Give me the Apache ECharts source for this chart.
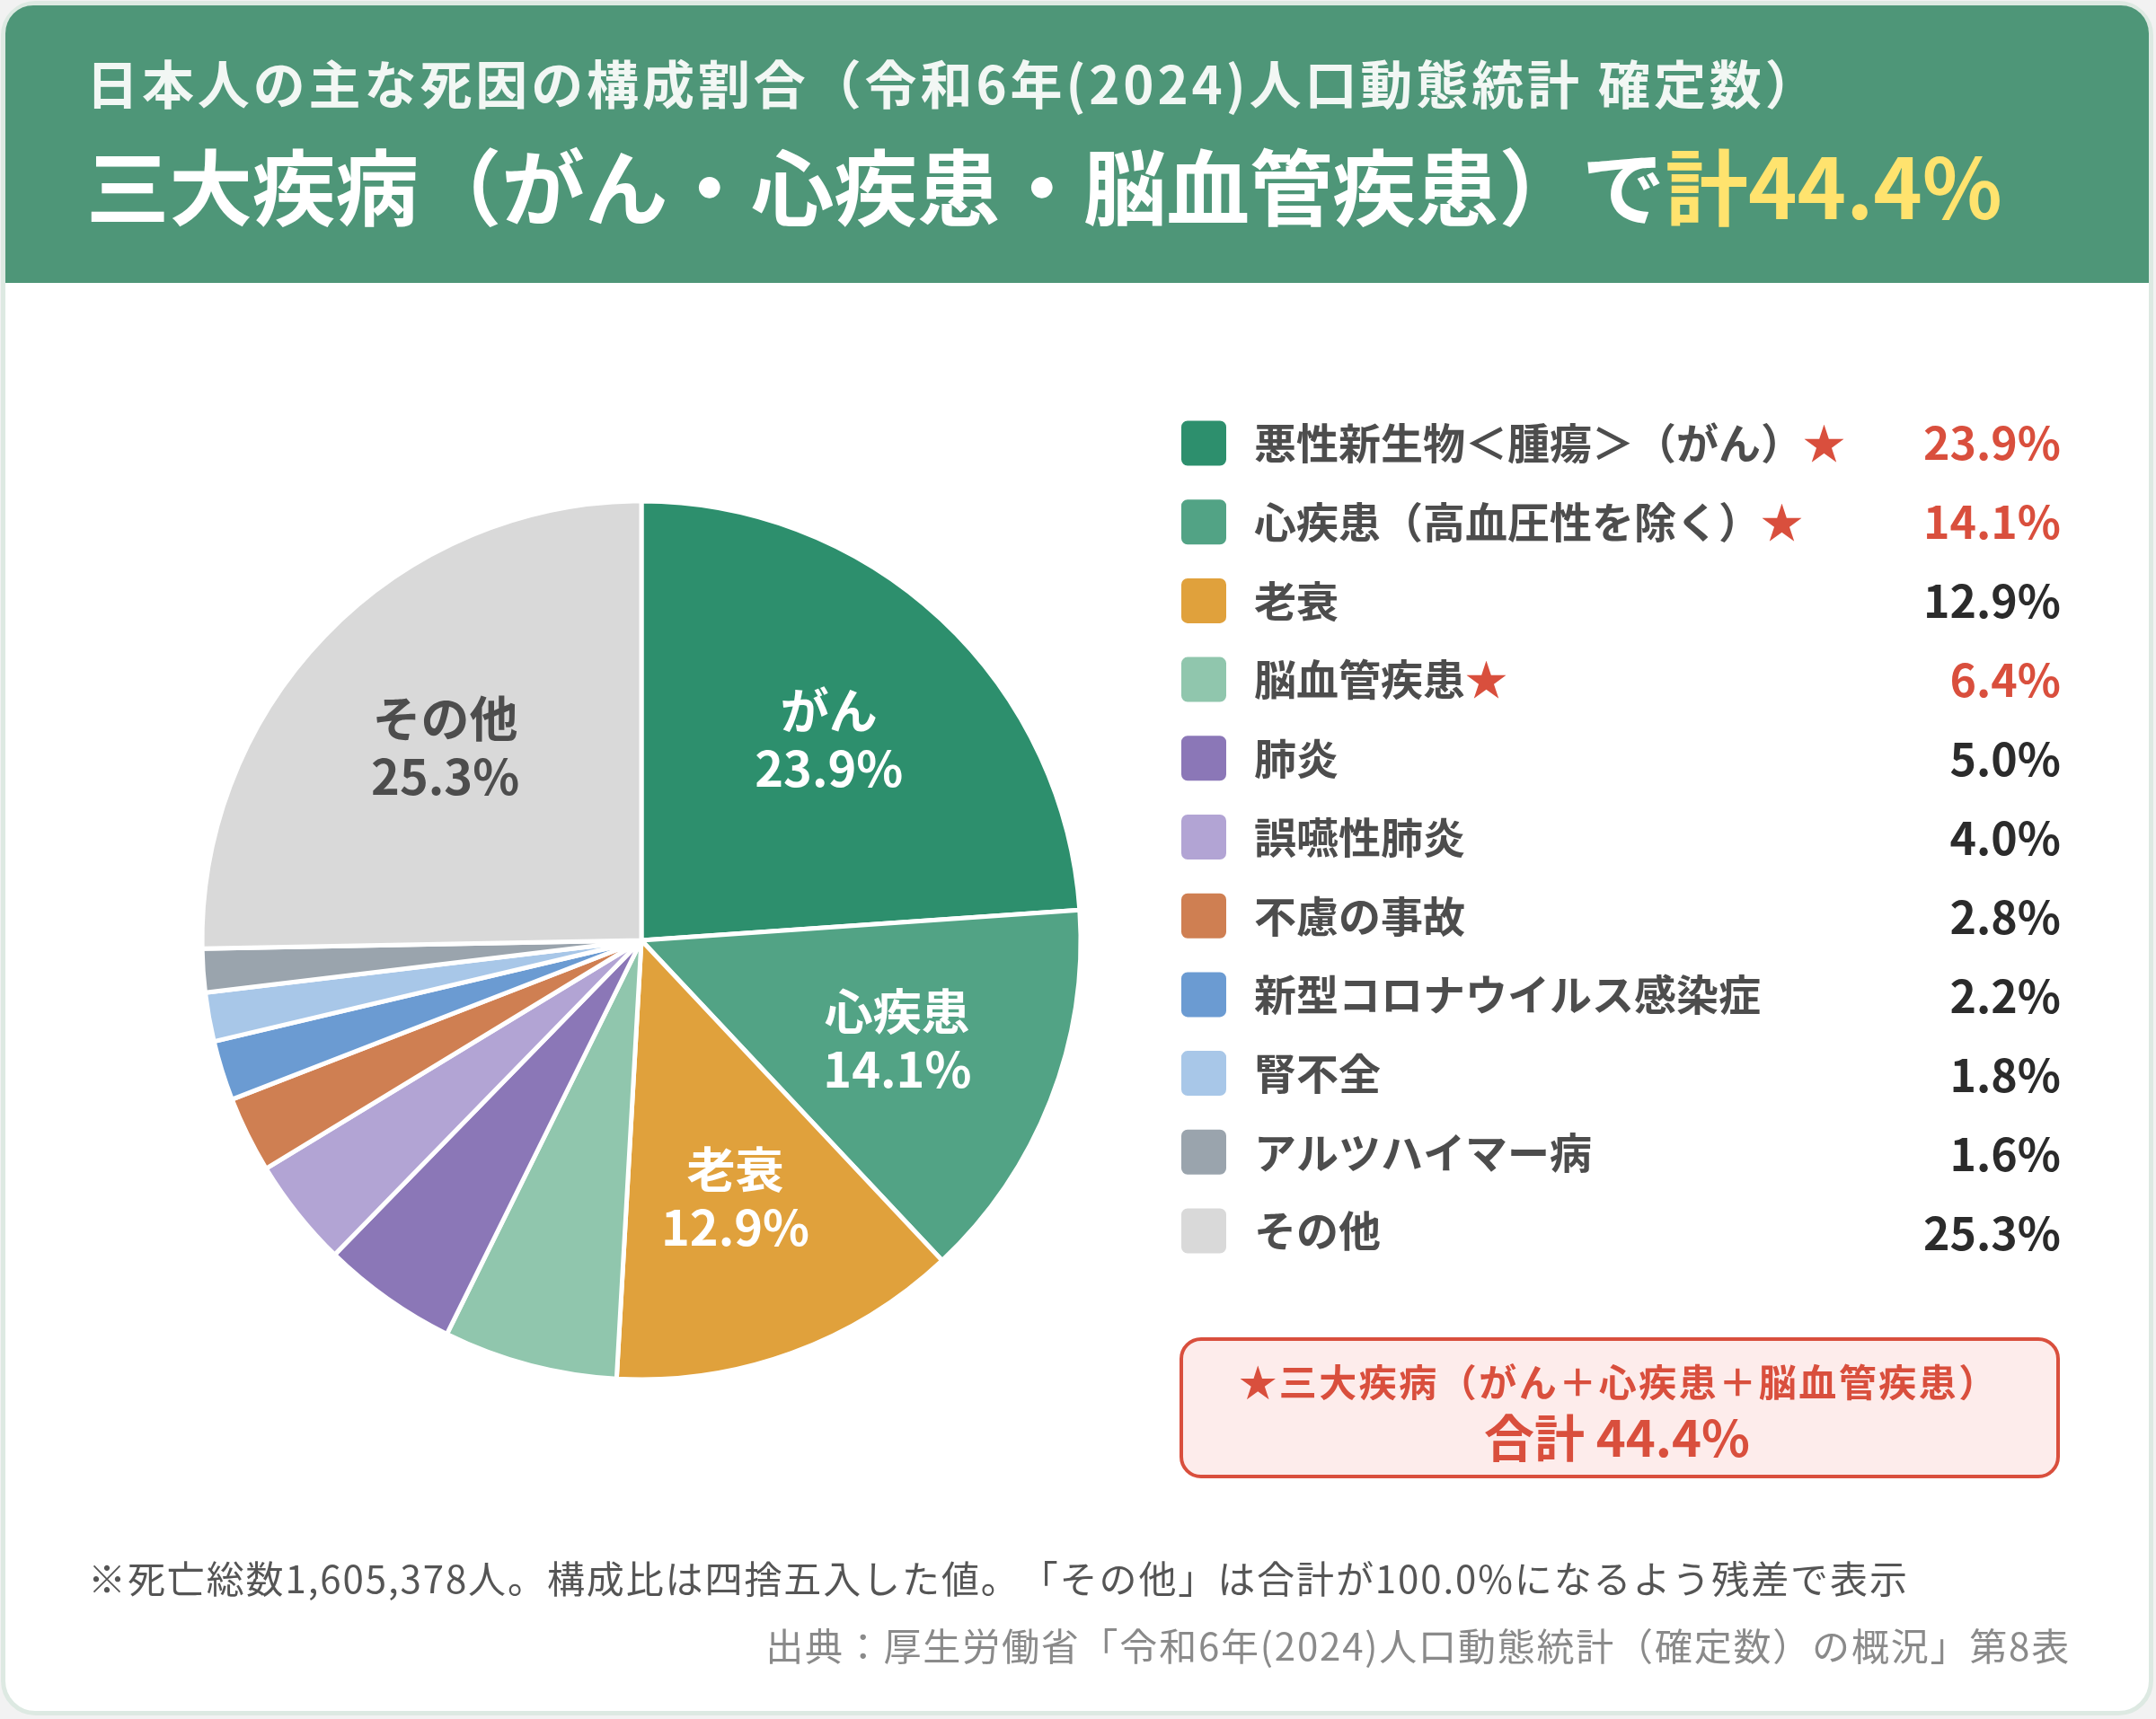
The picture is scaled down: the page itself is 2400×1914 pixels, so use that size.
<!DOCTYPE html>
<html lang="ja">
<head>
<meta charset="utf-8">
<title>日本人の主な死因の構成割合</title>
<script src="https://cdn.jsdelivr.net/npm/echarts@6/dist/echarts.min.js"></script>
<style>
  html, body { margin: 0; padding: 0; background: #f2f2f2; }
  #chart { width: 2400px; height: 1914px; }
</style>
</head>
<body>
<div id="chart"></div>
<script>
// 死因（凡例の並び順＝円グラフの時計回り順）
const causes = ['悪性新生物＜腫瘍＞（がん）', '心疾患（高血圧性を除く）', '老衰', '脳血管疾患', '肺炎', '誤嚥性肺炎',
  '不慮の事故', '新型コロナウイルス感染症', '腎不全', 'アルツハイマー病', 'その他']
const shares = [23.9, 14.1, 12.9, 6.4, 5.0, 4.0, 2.8, 2.2, 1.8, 1.6, 25.3]
// 円の中に書く短い名前（空文字は表示しない）
const shortNames = ['がん', '心疾患', '老衰', '', '', '', '', '', '', '', 'その他']
// 三大疾病
const isBigThree = [true, true, false, true, false, false, false, false, false, false, false]
const colors = ['#2d8f6d', '#52a385', '#e0a13c', '#90c6ad', '#8b77b7', '#b2a4d4',
  '#cf7f52', '#6b9bd2', '#a8c7e8', '#9aa4ad', '#d9d9d9']

const titleSub = '日本人の主な死因の構成割合（令和6年(2024)人口動態統計 確定数）'
const note = '※死亡総数1,605,378人。構成比は四捨五入した値。「その他」は合計が100.0%になるよう残差で表示'
const source = '出典：厚生労働省「令和6年(2024)人口動態統計（確定数）の概況」第8表'

const FONT = "'Noto Sans CJK JP', 'Noto Sans', sans-serif"
const RED = '#d94f3d'

let bigThreeTotal = 0
shares.forEach((v, i) => { if (isBigThree[i]) bigThreeTotal += v })
const totalText = bigThreeTotal.toFixed(1) + '%'

const myChart = echarts.init(document.getElementById('chart'))

function txt(x, y, text, style) {
  return {
    type: 'text', x: x, y: y, z: 5,
    style: Object.assign({
      text: text, fontFamily: FONT,
      textAlign: 'left', align: 'left',
      textVerticalAlign: 'middle', verticalAlign: 'middle'
    }, style)
  }
}

// 文字間隔をあけたテキスト（1文字ずつ rich の padding で広げる）
function spaced(x, y, text, size, weight, color, ls, align) {
  const s = Array.from(text).map(c => '{c|' + c + '}').join('')
  return txt(x, y, s, {
    fontSize: size, fontWeight: weight, fill: color,
    textAlign: align, align: align,
    rich: { c: { fontSize: size, fontWeight: weight, fontFamily: FONT, fill: color, color: color, padding: [0, ls, 0, 0] } }
  })
}

const graphics = [
  // カード
  { type: 'rect', z: 0, shape: { x: 3.5, y: 3.5, width: 2391, height: 1904, r: 36 },
    style: { fill: '#fff', stroke: '#dde9e2', lineWidth: 5 } },
  // 見出し帯
  { type: 'rect', z: 1, shape: { x: 6, y: 6, width: 2386, height: 309, r: [31, 31, 0, 0] },
    style: { fill: '#4e9678' } },
  spaced(96, 94, titleSub, 58, 'bold', '#f2f7f4', 3.9, 'left'),
  txt(96, 209, '{w|三大疾病（がん・心疾患・脳血管疾患）で}{y|計' + totalText + '}', {
    fontSize: 92.5, fontWeight: 'bold', fill: '#fff',
    rich: {
      w: { fontSize: 92.5, fontWeight: 'bold', fontFamily: FONT, fill: '#fff', color: '#fff' },
      y: { fontSize: 92.5, fontWeight: 'bold', fontFamily: FONT, fill: '#ffe36e', color: '#ffe36e' }
    }
  }),
  // 三大疾病の合計ボックス
  { type: 'rect', z: 1, shape: { x: 1315, y: 1491, width: 976, height: 153, r: 22 },
    style: { fill: '#fdeceb', stroke: RED, lineWidth: 4 } },
  spaced(1802, 1539, '★三大疾病（がん＋心疾患＋脳血管疾患）', 42, 'bold', RED, 2.5, 'center'),
  txt(1800, 1601, '合計 ' + totalText, { fontSize: 56, fontWeight: 'bold', fill: RED, textAlign: 'center', align: 'center' }),
  // 注記
  spaced(98, 1758, note, 42, 'normal', '#555', 1.9, 'left'),
  spaced(2305, 1833, source, 42, 'normal', '#8a8a8a', 1.8, 'right')
]

// 凡例の右側の数値
shares.forEach((v, i) => {
  graphics.push(txt(2294, 493 + i * 88, v.toFixed(1) + '%', {
    fontSize: 50, fontWeight: 'bold',
    fill: isBigThree[i] ? RED : '#2b2b2b',
    textAlign: 'right', align: 'right'
  }))
})

const pieData = causes.map((name, i) => ({ name: name, value: shares[i], itemStyle: { color: colors[i] } }))

const labelData = causes.map((name, i) => ({
  name: name, value: shares[i],
  label: {
    show: shortNames[i] !== '',
    color: name === 'その他' ? '#4d4d4d' : '#fff'
  }
}))

const option = {
  animation: false,
  backgroundColor: '#f2f2f2',
  graphic: { elements: graphics },
  legend: {
    orient: 'vertical',
    left: 1313,
    top: 466.5,
    padding: 0,
    itemWidth: 52,
    itemHeight: 52,
    itemGap: 33.7,
    selectedMode: false,
    icon: 'path://M8,0 H44 A8,8 0 0 1 52,8 V44 A8,8 0 0 1 44,52 H8 A8,8 0 0 1 0,44 V8 A8,8 0 0 1 8,0 Z',
    data: causes,
    formatter: function (name) {
      const i = causes.indexOf(name)
      return isBigThree[i] ? '{n|' + name + '}{s|★}' : '{n|' + name + '}'
    },
    textStyle: {
      fontSize: 47, fontWeight: 'bold', color: '#4d4d4d', fontFamily: FONT,
      lineHeight: 52, padding: [0, 0, 0, 25],
      rich: {
        n: { fontSize: 47, fontWeight: 'bold', color: '#4d4d4d', fontFamily: FONT, lineHeight: 52 },
        s: { fontSize: 47, color: RED, fontFamily: FONT, lineHeight: 52 }
      }
    }
  },
  series: [{
    type: 'pie',
    center: [714, 1047],
    radius: [0, 489],
    startAngle: 90,
    clockwise: true,
    silent: true,
    itemStyle: { borderColor: '#fff', borderWidth: 5 },
    label: { show: false },
    labelLine: { show: false },
    data: pieData
  }, {
    // ラベルだけの透明な重ね（半径 0.62 の位置に文字を置く）
    type: 'pie',
    center: [714, 1047],
    radius: [117, 489],
    startAngle: 90,
    clockwise: true,
    silent: true,
    z: 3,
    itemStyle: { color: 'rgba(0,0,0,0)', borderWidth: 0 },
    labelLine: { show: false },
    label: {
      position: 'inside',
      fontFamily: FONT,
      fontSize: 54,
      fontWeight: 'bold',
      lineHeight: 64,
      formatter: function (p) {
        return shortNames[p.dataIndex] + '\n' + shares[p.dataIndex].toFixed(1) + '%'
      }
    },
    data: labelData
  }]
}

myChart.setOption(option)
</script>
</body>
</html>
